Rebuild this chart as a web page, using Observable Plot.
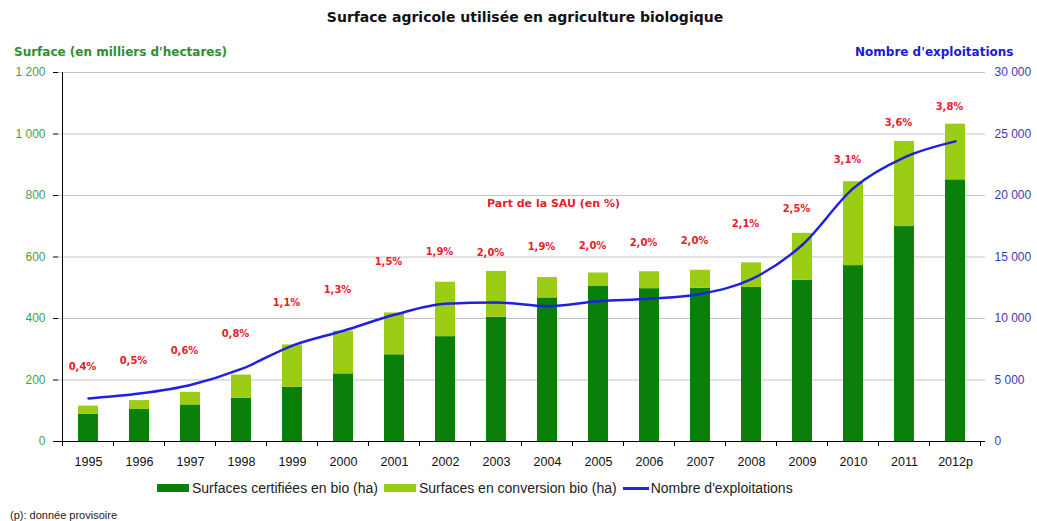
<!DOCTYPE html>
<html>
<head>
<meta charset="utf-8">
<script src="https://cdn.jsdelivr.net/npm/d3@7"></script>
<script src="https://cdn.jsdelivr.net/npm/@observablehq/plot@0.6"></script>
<style>
  html, body { margin: 0; padding: 0; background: #fff; }
  #wrap { position: relative; width: 1037px; height: 521px; font-family: "Liberation Sans", Arial, sans-serif; overflow: hidden; }
  #wrap svg { position: absolute; left: 0; top: 0; }
  .abs { position: absolute; white-space: nowrap; }
  #title { left: 0; width: 1050px; text-align: center; top: 9px; font-family: "DejaVu Sans", Verdana, sans-serif; font-size: 14px; font-weight: bold; color: #111; }
  #ltitle { left: 14px; top: 45px; font-family: "DejaVu Sans", Verdana, sans-serif; font-size: 12px; font-weight: bold; color: #2e8f2e; }
  #rtitle { left: 855px; top: 45px; font-family: "DejaVu Sans", Verdana, sans-serif; font-size: 12px; font-weight: bold; color: #1a1ad8; }
  #legend { left: 157px; top: 480px; font-size: 14px; color: #222; display: flex; align-items: center; }
  #legend .sw { display: inline-block; width: 32px; height: 8px; margin-right: 3px; }
  #legend .ln { display: inline-block; width: 26px; height: 3px; background: #2222e0; margin-right: 2px; }
  #legend .item { display: flex; align-items: center; margin-right: 6px; }
  #foot { left: 10px; top: 509px; font-size: 11px; color: #222; }
</style>
</head>
<body>
<div id="wrap">
  <div id="title" class="abs">Surface agricole utilisée en agriculture biologique</div>
  <div id="ltitle" class="abs">Surface (en milliers d'hectares)</div>
  <div id="rtitle" class="abs">Nombre d'exploitations</div>
  <div id="legend" class="abs">
    <span class="item"><span class="sw" style="background:#0a800a"></span>Surfaces certifiées en bio (ha)</span>
    <span class="item"><span class="sw" style="background:#9acd14"></span>Surfaces en conversion bio (ha)</span>
    <span class="item"><span class="ln"></span>Nombre d'exploitations</span>
  </div>
  <div id="foot" class="abs">(p): donnée provisoire</div>
</div>
<script>
const years = ["1995","1996","1997","1998","1999","2000","2001","2002","2003","2004","2005","2006","2007","2008","2009","2010","2011","2012p"];
const certified = [88,104,119,141,176,220,282,341,404,467,504,497,498,501,524,572,699,851];
const conversion = [27,29,41,75,138,139,136,177,149,66,44,55,59,80,153,273,277,181];
const exploitations = [3500,3900,4600,5900,7800,9000,10300,11200,11300,11000,11400,11600,12000,13200,16000,20600,23100,24400];
const sauShare = ["0,4%","0,5%","0,6%","0,8%","1,1%","1,3%","1,5%","1,9%","2,0%","1,9%","2,0%","2,0%","2,0%","2,1%","2,5%","3,1%","3,6%","3,8%"];
const sauLabelLevel = [244,261,296,351,450,494,583,618,615,632,635,647,654,708,757,917,1036,1089];
const leftTicks = [0,200,400,600,800,1000,1200];
const rightRatio = 25; // 30 000 exploitations <-> 1 200 milliers ha

const fr = d3.formatLocale({decimal: ",", thousands: "\u00a0", grouping: [3], currency: ["", " €"]});
const fmt = fr.format(",");

const SER_CERT = "Surfaces certifiées en bio (ha)";
const SER_CONV = "Surfaces en conversion bio (ha)";
const tidy = [];
years.forEach((y, i) => {
  tidy.push({year: y, series: SER_CERT, value: certified[i]});
  tidy.push({year: y, series: SER_CONV, value: conversion[i]});
});
const rows = years.map((y, i) => ({year: y, expl: exploitations[i], share: sauShare[i], level: sauLabelLevel[i]}));

const bold = "'DejaVu Sans', Verdana, sans-serif";

const chart = Plot.plot({
  width: 1037,
  height: 475,
  marginTop: 72,
  marginBottom: 34,
  marginLeft: 58,
  marginRight: 52,
  style: {fontFamily: "'Liberation Sans', Arial, sans-serif", fontSize: "12px", background: "transparent", overflow: "visible"},
  x: {domain: years, paddingInner: 0.6, paddingOuter: 0.3, axis: null},
  y: {domain: [0, 1200], axis: null},
  color: {domain: [SER_CERT, SER_CONV], range: ["#0a800a", "#9acd14"]},
  marks: [
    Plot.ruleY(leftTicks.slice(1), {stroke: "#c4c4c4", strokeWidth: 1}),
    Plot.barY(tidy, {x: "year", y: "value", fill: "series", order: [SER_CERT, SER_CONV]}),
    Plot.line(rows, {x: "year", y: d => d.expl / rightRatio, stroke: "#2020e0", strokeWidth: 2.5, curve: "monotone-x"}),
    Plot.text(rows, {x: "year", y: "level", text: "share", fill: "#e8202a", fontWeight: "bold", fontSize: 10, fontFamily: bold, dx: -6}),
    Plot.text(["Part de la SAU (en %)"], {x: () => "2004", y: () => 775, text: d => d, fill: "#e8202a", fontWeight: "bold", fontSize: 11, fontFamily: bold, dx: 6}),
    Plot.ruleY([0], {stroke: "#000", strokeWidth: 1}),
    Plot.axisY({anchor: "left", ticks: leftTicks, tickFormat: fmt, tickSize: 5, tickPadding: 8, fill: "#4a9e4a", stroke: "#000", fontSize: 12, label: null}),
    Plot.axisY({anchor: "right", ticks: leftTicks, tickFormat: d => fmt(d * rightRatio), tickSize: 0, tickPadding: 9, fill: "#3a3ab8", fontSize: 12, label: null}),
    Plot.axisX({anchor: "bottom", tickSize: 0, tickPadding: 16, fill: "#111", fontSize: 12.5, label: null})
  ]
});

// axis domain line (left) and category-boundary ticks (bottom)
const sx = chart.scale("x"), sy = chart.scale("y");
const svg = d3.select(chart);
const gap = sx.step - sx.bandwidth;
const bounds = years.map(y => sx.apply(y) - gap / 2);
bounds.push(sx.apply(years[years.length - 1]) + sx.bandwidth + gap / 2);
const y0 = sy.apply(0), yTop = sy.apply(1200);
const g = svg.append("g").attr("stroke", "#000").attr("stroke-width", 1);
g.append("line").attr("x1", bounds[0]).attr("x2", bounds[0]).attr("y1", yTop).attr("y2", y0);
bounds.forEach(b => g.append("line").attr("x1", b).attr("x2", b).attr("y1", y0).attr("y2", y0 + 5));

document.getElementById("wrap").appendChild(chart);
</script>
</body>
</html>
